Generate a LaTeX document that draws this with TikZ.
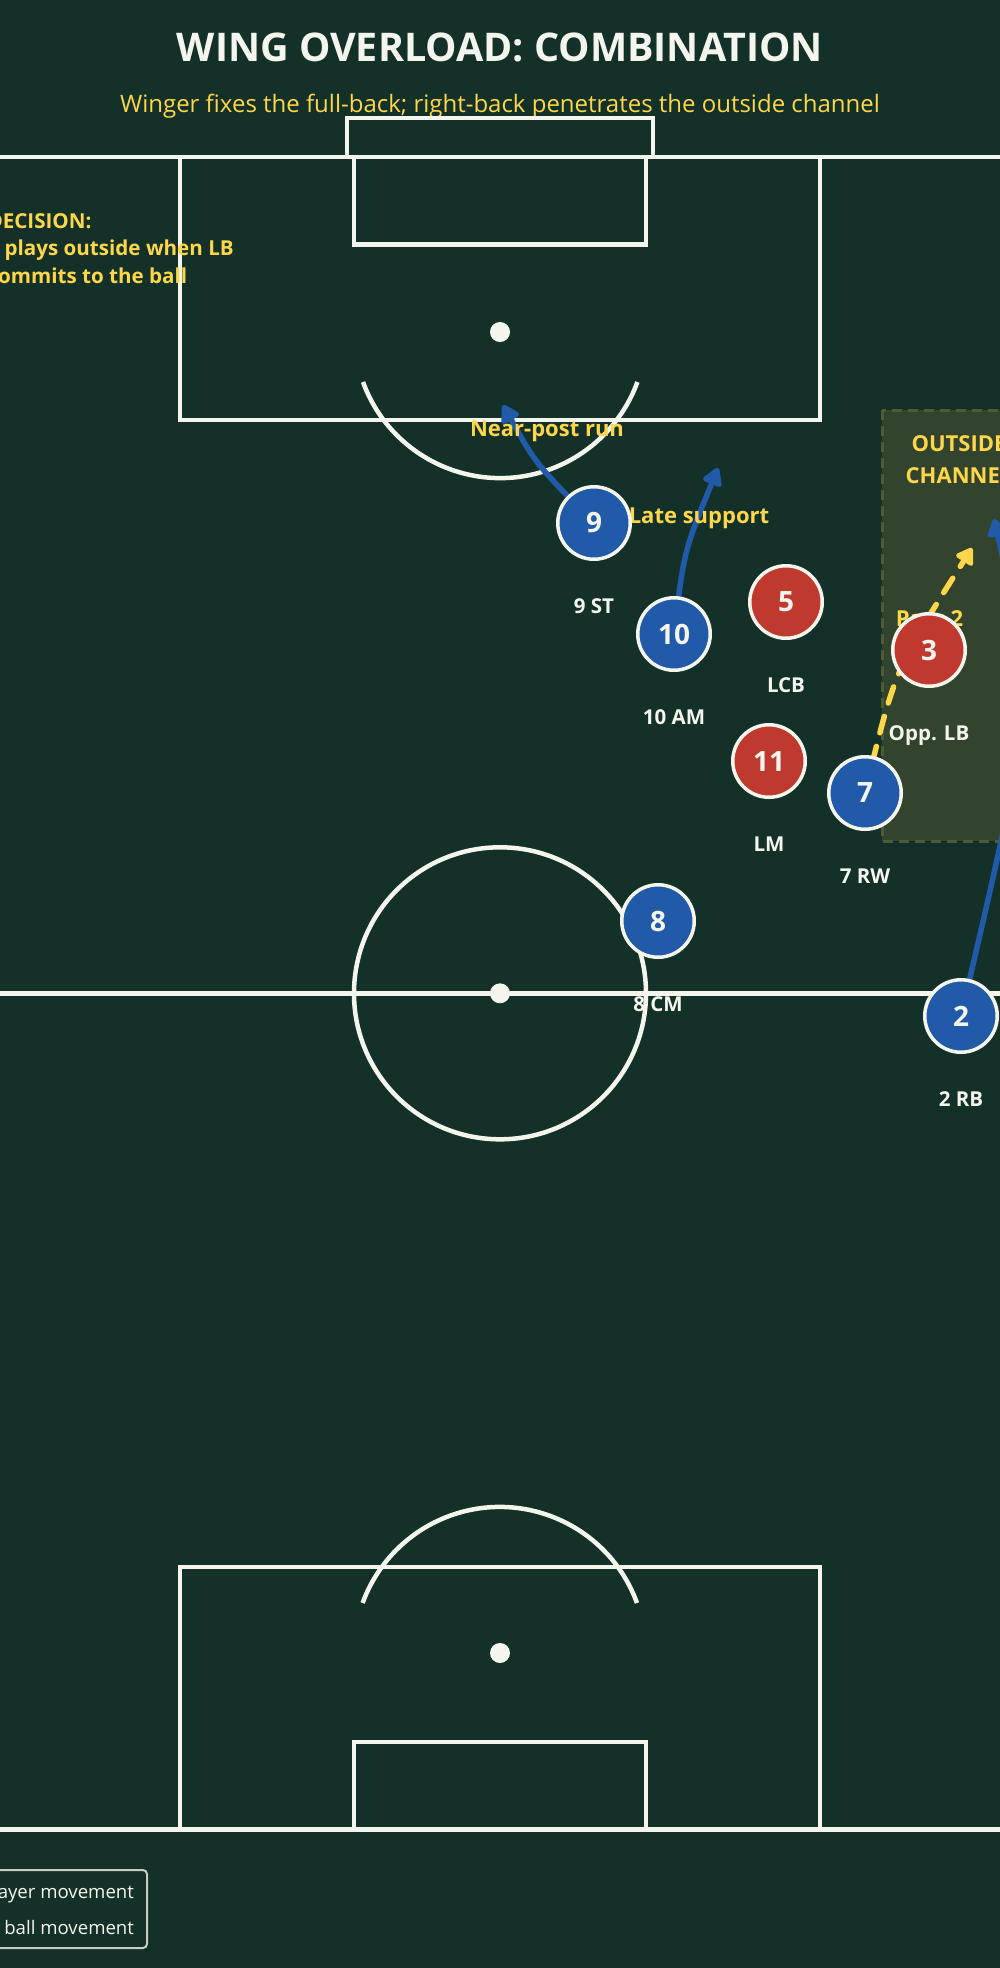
\documentclass[tikz,border=0pt]{standalone}
\usepackage{fontspec}
\setmainfont{Open Sans}
\usetikzlibrary{arrows.meta}
\definecolor{pitchgreen}{RGB}{19,49,40}
\definecolor{chalk}{RGB}{244,246,238}
\definecolor{homeblue}{RGB}{32,90,168}
\definecolor{awayred}{RGB}{192,57,46}
\definecolor{gold}{RGB}{253,214,74}
\definecolor{zonefill}{RGB}{50,68,45}
\definecolor{zoneedge}{RGB}{80,88,52}
\definecolor{legendgray}{RGB}{200,204,194}

\begin{document}
\begin{tikzpicture}[x=1pt,y=-1pt,
        pitch/.style={draw=chalk,line width=4.5pt},
        home/.style={circle,draw=chalk,line width=3.5pt,fill=homeblue,minimum size=72.5pt,inner sep=0pt,text=chalk,font=\bfseries\fontsize{28}{32}\selectfont},
        away/.style={home,fill=awayred},
        tag/.style={anchor=base,text=chalk,font=\bfseries\fontsize{20.5}{24}\selectfont},
        note/.style={anchor=base,text=gold,font=\bfseries\fontsize{22}{26}\selectfont},
        run/.style={draw=homeblue,line width=5.5pt,-{Triangle[length=20pt,width=22pt,round]}},
        pass/.style={draw=gold,line width=5.5pt,line cap=round,dash pattern=on 17pt off 14pt,-{Triangle[length=18pt,width=22pt,round]}}]
            \useasboundingbox (0,0) rectangle (1000,1968);
            \clip (0,0) rectangle (1000,1968);
            \fill[pitchgreen] (0,0) rectangle (1000,1968);

            \node[anchor=base,text=chalk,font=\bfseries\fontsize{39.5}{46}\selectfont] (title) at (500,61) {WING OVERLOAD: COMBINATION};
            \node[anchor=base,text=gold,font=\fontsize{24}{28}\selectfont] (subtitle) at (500,112.7) {Winger fixes the full-back; right-back penetrates the outside channel};

            \draw[pitch] (-42,157) rectangle (1042,1829.6);
            \draw[pitch] (-42,993.3) -- (1042,993.3);
            \draw[pitch] (500,993.3) circle[radius=146pt];
            \fill[chalk] (500,993.3) circle[radius=10pt];
            \draw[pitch] (347,157) -- (347,118) -- (653,118) -- (653,157);
            \draw[pitch] (180,157) rectangle (820,420);
            \draw[pitch] (354,157) rectangle (646,244.6);
            \fill[chalk] (500,332) circle[radius=10pt];
            \draw[pitch] (363,382) arc[start angle=200,end angle=340,radius=146pt];
            \draw[pitch] (180,1829.6) rectangle (820,1567);
            \draw[pitch] (354,1829.6) rectangle (646,1742);
            \fill[chalk] (500,1653) circle[radius=10pt];
            \draw[pitch] (637,1603) arc[start angle=20,end angle=160,radius=146pt];

            \fill[zonefill] (882,410) rectangle (1045,841);
            \draw[zoneedge,line width=3pt,dash pattern=on 10pt off 6pt] (882,410) rectangle (1045,841);
            \node[note] (zone1) at (959,451.7) {OUTSIDE};
            \node[note] (zone2) at (959,483.3) {CHANNEL};

            \foreach \i/\s in {0/DECISION:,1/7 plays outside when LB,2/commits to the ball}
                \node[note,anchor=base west,font=\bfseries\fontsize{20.6}{24}\selectfont] (dec\i) at (-16,228.3+27.5*\i) {\s};

            \foreach \n/\x/\y in {9/594/523,10/674/634,7/865/793,8/658/921,2/961/1016,5/786/602,3/929/650,11/769/761}
                \coordinate (c\n) at (\x,\y);
            \coordinate (run9) at (503,405);
            \coordinate (run10) at (718,468);
            \coordinate (run2) at (994,519);
            \coordinate (pass7) at (972,548);

            \draw[run] (c9) .. controls (536,464) .. (run9);
            \draw[run] (c10) .. controls (684,551) .. (run10);
            \draw[run] (c2) .. controls (1035,700) .. (run2);
            \draw[pass] (c7) .. controls (895,669) .. (pass7);

            \node[note] (near) at (547,436) {Near-post run};
            \node[note] (late) at (699,523.3) {Late support};
            \node[note] (pass) at (929.5,626.7) {Pass 2};

            \foreach \n/\t in {9/9 ST,10/10 AM,7/7 RW,8/8 CM,2/2 RB}{
                \node[home] (p\n) at (c\n) {\n};
                \node[tag] (l\n) at ([yshift=-90pt]c\n) {\t};
            }
            \foreach \n/\t in {5/LCB,3/Opp. LB,11/LM}{
                \node[away] (p\n) at (c\n) {\n};
                \node[tag] (l\n) at ([yshift=-90pt]c\n) {\t};
            }

            \draw[legendgray,line width=2pt,rounded corners=4pt,fill=pitchgreen] (-160,1870) rectangle (147,1948);
            \node[anchor=base east,text=chalk,font=\fontsize{18.6}{22}\selectfont] (leg1) at (137.5,1898.3) {Player movement};
            \node[anchor=base east,text=chalk,font=\fontsize{18.6}{22}\selectfont] (leg2) at (137.5,1934.3) {Pass or ball movement};
        \end{tikzpicture}
\end{document}
